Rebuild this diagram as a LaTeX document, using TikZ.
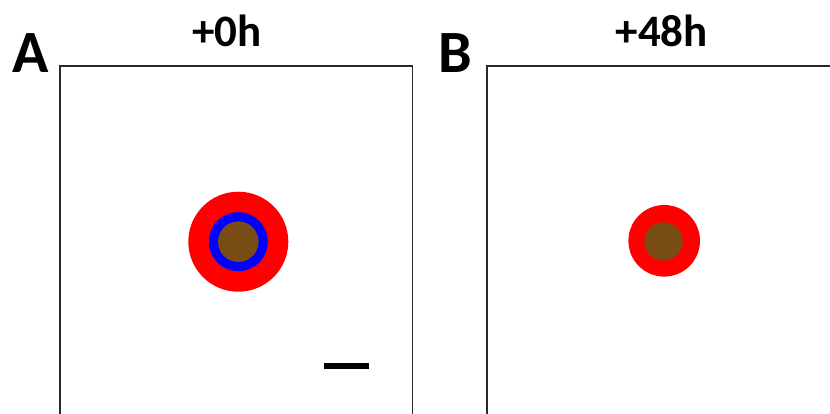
\documentclass[tikz,border=0pt]{standalone}
\usepackage{fontspec}
\setmainfont{Carlito}
\definecolor{cellbrown}{RGB}{120,76,20}
\definecolor{framegray}{RGB}{40,40,40}
\begin{document}
\begin{tikzpicture}[x=1pt,y=-1pt,
  panelbox/.style={draw=framegray,line width=1.3pt},
  paneltag/.style={font=\bfseries\fontsize{60}{60}\selectfont,anchor=base,inner sep=0pt},
  timetag/.style={font=\bfseries\fontsize{45}{45}\selectfont,anchor=base,inner sep=0pt}]
\useasboundingbox (0,0) rectangle (830,413);
\fill[white] (0,0) rectangle (830,413);
% panels
\draw[panelbox] (60,413.8) -- (60,66) -- (412.5,66) -- (412.5,413.8);
\draw[panelbox] (487,413.8) -- (487,66) -- (832,66);
% labels
\node[paneltag] (la) at (31,72) {A};
\node[paneltag] (lb) at (455,72) {B};
\node[timetag] (ta) at (226.7,46.7) {+0h};
\node[timetag] (tb) at (661.7,46.7) {+48h};
% cell A
\fill[red] (238.3,241.7) circle (50);
\fill[blue] (238.3,241.7) circle (29.5);
\fill[cellbrown] (238.3,241.7) circle (20.3);
% cell B
\fill[red] (664.2,240.8) circle (35.8);
\fill[cellbrown] (663.5,241.5) circle (19.2);
% scale bar
\draw[black,line width=6pt] (324,366.3) -- (369.3,366.3);
\end{tikzpicture}
\end{document}
